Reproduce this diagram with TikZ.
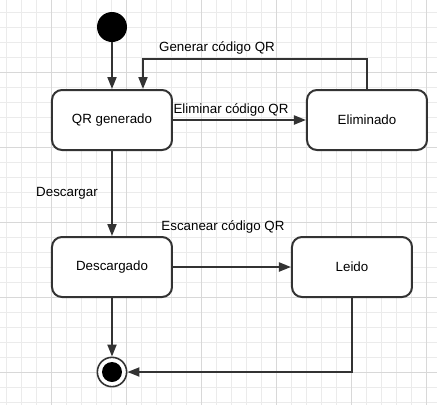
\documentclass[tikz,border=0pt]{standalone}
\usepackage{fontspec}
\setmainfont{Liberation Sans}
\usetikzlibrary{arrows.meta}
\definecolor{ln}{HTML}{333333}
\definecolor{gmin}{HTML}{EBEBEB}
\definecolor{gmaj}{HTML}{D8D8D8}
\begin{document}
\begin{tikzpicture}[x=0.75pt,y=-0.75pt,
  state/.style={draw=ln, line width=1.5pt, rounded corners=7.5pt, fill=white,
    minimum width=90pt, minimum height=45pt, inner sep=0pt, font=\fontsize{10}{12}\selectfont},
  tr/.style={draw=ln, line width=1.5pt, -{Triangle[length=9pt,width=6.75pt]}},
  lbl/.style={font=\fontsize{10}{12}\selectfont, inner sep=0pt},
  gridmin/.style={draw=gmin, line width=0.75pt},
  gridmaj/.style={draw=gmaj, line width=0.75pt}]
\useasboundingbox (0,0) rectangle (437,405);
\fill[white] (0,0) rectangle (437,405);
\foreach \x in {7,22,...,427} \draw[gridmin] (\x,0) -- (\x,405);
\foreach \y in {12,27,...,402} \draw[gridmin] (0,\y) -- (437,\y);
\foreach \x in {52,127,...,427} \draw[gridmaj] (\x,0) -- (\x,405);
\foreach \y in {72,147,...,372} \draw[gridmaj] (0,\y) -- (437,\y);

\node[state] (qr) at (112,120) {QR generado};
\node[state] (el) at (367,120) {Eliminado};
\node[state] (de) at (112,267) {Descargado};
\node[state] (le) at (352,267) {Leido};
\node[circle, fill=black, minimum size=22.5pt, inner sep=0pt] (ini) at (112,27) {};
\node[circle, draw=ln, line width=1.2pt, fill=white, minimum size=22pt, inner sep=0pt] (fin) at (112,372) {};
\node[circle, fill=black, minimum size=15pt, inner sep=0pt] (finin) at (112,372) {};

\coordinate (lp) at (143,59);
\draw[tr] (ini) -- (qr);
\draw[tr] (qr) -- (el);
\draw[tr] (el.north) |- (lp) -- (lp |- qr.north);
\draw[tr] (qr) -- (de);
\draw[tr] (de) -- (le);
\draw[tr] (de) -- (fin);
\draw[tr] (le.south) |- (fin);

\node[lbl] (l1) at (217,48) {Generar código QR};
\node[lbl] (l2) at (231,110) {Eliminar código QR};
\node[lbl] (l3) at (67,193) {Descargar};
\node[lbl] (l4) at (223,227) {Escanear código QR};
\end{tikzpicture}
\end{document}
